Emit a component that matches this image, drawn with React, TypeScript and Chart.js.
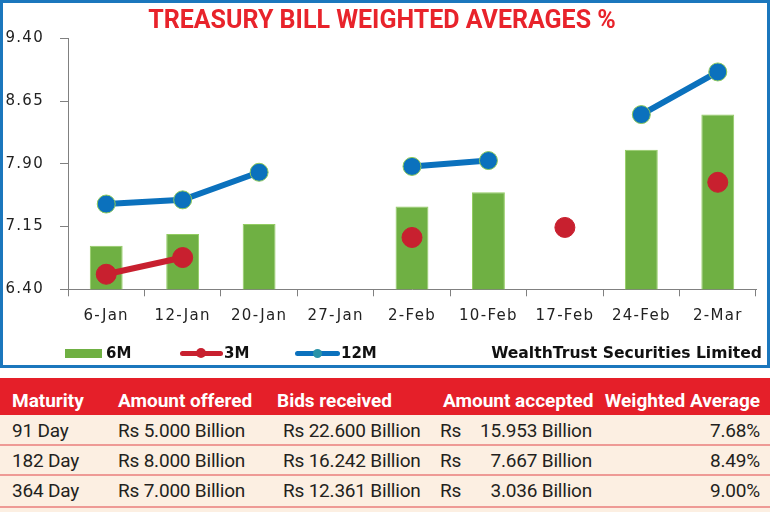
import React, { useEffect, useRef } from 'react';
import { Chart, registerables } from 'chart.js';

Chart.register(...registerables);

// ---------- data ----------
const categories = ['6-Jan', '12-Jan', '20-Jan', '27-Jan', '2-Feb', '10-Feb', '17-Feb', '24-Feb', '2-Mar'];
const sixMonth = [6.92, 7.06, 7.18, null, 7.39, 7.56, null, 8.07, 8.49];
const threeMonth = [6.58, 6.78, null, null, 7.02, null, 7.14, null, 7.68];
const twelveMonth = [7.42, 7.47, 7.80, null, 7.87, 7.94, null, 8.49, 9.00];
const yTicks = [6.40, 7.15, 7.90, 8.65, 9.40];

const seriesLabels = ['6M', '3M', '12M'];
const titleText = 'TREASURY BILL WEIGHTED AVERAGES %';
const sourceText = 'WealthTrust Securities Limited';

const tableHeaders = ['Maturity', 'Amount offered', 'Bids received', 'Amount accepted', 'Weighted Average'];
const maturities = ['91 Day', '182 Day', '364 Day'];
const amountOffered = ['Rs 5.000 Billion', 'Rs 8.000 Billion', 'Rs 7.000 Billion'];
const bidsReceived = ['Rs 22.600 Billion', 'Rs 16.242 Billion', 'Rs 12.361 Billion'];
const currency = 'Rs';
const amountAccepted = ['15.953 Billion', '7.667 Billion', '3.036 Billion'];
const weightedAverage = ['7.68%', '8.49%', '9.00%'];

// ---------- styles ----------
const GREEN = '#6fb043';
const GREEN_EDGE = '#93cc62';
const RED = '#c8202f';
const BLUE = '#0b71bd';
const TITLE_RED = '#e8232b';
const HEADER_RED = '#e51f29';
const FRAME_BLUE = '#1b77bd';
const AXIS = '#808080';
const CREAM = '#fcefe2';
const DIVIDER = '#ee9a95';
const TABLE_FONT = 'Roboto, "DejaVu Sans", sans-serif';
const TICK_FONT = '"DejaVu Sans", sans-serif';

// spaced tick labels: labels are drawn after datasets (ticks z: 1)
const tickSpacing = {
  id: 'tickSpacing',
  afterDatasetsDraw(chart: any) { chart.ctx.letterSpacing = '1.3px'; },
  afterDraw(chart: any) { chart.ctx.letterSpacing = '0px'; },
};

function ChartCanvas() {
  const ref = useRef<HTMLCanvasElement | null>(null);
  useEffect(() => {
    const canvas = ref.current;
    if (!canvas) return;
    const chart = new Chart(canvas, {
      type: 'bar',
      data: {
        labels: categories,
        datasets: [
          {
            type: 'line',
            label: seriesLabels[2],
            data: twelveMonth,
            borderColor: BLUE,
            backgroundColor: BLUE,
            borderWidth: 6,
            pointRadius: 9,
            pointBackgroundColor: BLUE,
            pointBorderColor: '#8dc85a',
            pointBorderWidth: 1,
            spanGaps: false,
            tension: 0,
            order: 1,
          } as any,
          {
            type: 'line',
            label: seriesLabels[1],
            data: threeMonth,
            borderColor: RED,
            backgroundColor: RED,
            borderWidth: 6,
            pointRadius: 10,
            pointBackgroundColor: RED,
            pointBorderColor: RED,
            pointBorderWidth: 1,
            spanGaps: false,
            tension: 0,
            order: 2,
          } as any,
          {
            type: 'bar',
            label: seriesLabels[0],
            data: sixMonth,
            backgroundColor: GREEN,
            borderColor: GREEN_EDGE,
            borderWidth: 1,
            barPercentage: 0.43,
            categoryPercentage: 1,
            order: 3,
          } as any,
        ],
      },
      plugins: [tickSpacing],
      options: {
        animation: false,
        responsive: false,
        maintainAspectRatio: false,
        layout: { padding: { left: 0, right: 6, top: 0, bottom: 0 } },
        plugins: {
          legend: { display: false },
          tooltip: { enabled: false },
          title: {
            display: true,
            text: titleText,
            color: TITLE_RED,
            font: { family: 'Roboto, sans-serif', size: 25, weight: 'bold', lineHeight: 1.2 },
            padding: { top: 3.7, bottom: 1.8 },
          },
        },
        scales: {
          x: {
            grid: { drawOnChartArea: false, drawTicks: true, tickLength: 7, color: AXIS, offset: true },
            border: { color: AXIS, width: 1 },
            ticks: { z: 1, font: { family: TICK_FONT, size: 15 }, color: '#222', padding: 11, maxRotation: 0, autoSkip: false },
            afterFit: (s: any) => { s.height = 75.7; },
          },
          y: {
            min: 6.4,
            max: 9.4,
            grid: { drawOnChartArea: false, drawTicks: true, tickLength: 8, color: AXIS },
            border: { color: AXIS, width: 1 },
            ticks: {
              z: 1,
              font: { family: TICK_FONT, size: 15 },
              color: '#222',
              padding: 16,
              callback: (v: any) => Number(v).toFixed(2),
            },
            afterBuildTicks: (s: any) => { s.ticks = yTicks.map((v) => ({ value: v })); },
            afterFit: (s: any) => { s.width = 65; },
          },
        },
      } as any,
    });
    return () => chart.destroy();
  }, []);
  return <canvas ref={ref} width={764} height={362} style={{ position: 'absolute', left: 0, top: 0, width: 764, height: 362, display: 'block' }} />;
}

const abs = (s: React.CSSProperties): React.CSSProperties => ({ position: 'absolute', ...s });

export default function App() {
  const legendText: React.CSSProperties = { fontFamily: '"DejaVu Sans", sans-serif', fontWeight: 'bold', fontSize: 15, color: '#111', lineHeight: '20px', whiteSpace: 'nowrap' };
  const headText: React.CSSProperties = { fontFamily: TABLE_FONT, fontWeight: 'bold', fontSize: 19, color: '#fff', lineHeight: '24px', whiteSpace: 'nowrap' };
  const cellText: React.CSSProperties = { fontFamily: TABLE_FONT, fontSize: 19, color: '#231f20', letterSpacing: -0.2, lineHeight: '24px', whiteSpace: 'nowrap' };
  const rowCenters = [431, 460.5, 490.5];
  const dividers = [443.5, 473.5, 505.5];
  return (
    <div style={abs({ left: 0, top: 0, width: 770, height: 512, background: '#fff', overflow: 'hidden' })}>
      {/* chart frame */}
      <div style={abs({ left: 0, top: 0, width: 770, height: 368, border: `3px solid ${FRAME_BLUE}`, boxSizing: 'border-box' })}>
        <ChartCanvas />
      </div>
      {/* legend */}
      <div style={abs({ left: 65, top: 348.5, width: 37, height: 9, background: GREEN })} />
      <div style={abs({ left: 106, top: 343, ...legendText })}>{seriesLabels[0]}</div>
      <div style={abs({ left: 180, top: 350.5, width: 43, height: 5, borderRadius: 3, background: RED })} />
      <div style={abs({ left: 196, top: 348, width: 10, height: 10, borderRadius: 5, background: RED })} />
      <div style={abs({ left: 224, top: 343, ...legendText })}>{seriesLabels[1]}</div>
      <div style={abs({ left: 295, top: 350.5, width: 45, height: 5, borderRadius: 3, background: BLUE })} />
      <div style={abs({ left: 313, top: 348.5, width: 9, height: 9, borderRadius: 5, background: '#2a93a8' })} />
      <div style={abs({ left: 341, top: 343, ...legendText })}>{seriesLabels[2]}</div>
      <div style={abs({ right: 8, top: 343, ...legendText, fontSize: 15.6 })}>{sourceText}</div>

      {/* table */}
      <div style={abs({ left: 0, top: 378, width: 770, height: 37, background: HEADER_RED })} />
      <div style={abs({ left: 0, top: 415, width: 770, height: 97, background: CREAM })} />
      {dividers.map((y, i) => (
        <div key={i} style={abs({ left: 0, top: y, width: 770, height: 2, background: DIVIDER })} />
      ))}
      <div style={abs({ left: 12, top: 388.5, ...headText })}>{tableHeaders[0]}</div>
      <div style={abs({ left: 118, top: 388.5, ...headText })}>{tableHeaders[1]}</div>
      <div style={abs({ left: 277, top: 388.5, ...headText })}>{tableHeaders[2]}</div>
      <div style={abs({ left: 443, top: 388.5, ...headText })}>{tableHeaders[3]}</div>
      <div style={abs({ right: 10, top: 388.5, ...headText })}>{tableHeaders[4]}</div>
      {maturities.map((m, i) => (
        <React.Fragment key={m}>
          <div style={abs({ left: 12, top: rowCenters[i] - 12, ...cellText })}>{m}</div>
          <div style={abs({ left: 118, top: rowCenters[i] - 12, ...cellText })}>{amountOffered[i]}</div>
          <div style={abs({ left: 283, top: rowCenters[i] - 12, ...cellText })}>{bidsReceived[i]}</div>
          <div style={abs({ left: 440, top: rowCenters[i] - 12, ...cellText })}>{currency}</div>
          <div style={abs({ right: 178, top: rowCenters[i] - 12, ...cellText })}>{amountAccepted[i]}</div>
          <div style={abs({ right: 10, top: rowCenters[i] - 12, ...cellText })}>{weightedAverage[i]}</div>
        </React.Fragment>
      ))}
    </div>
  );
}
